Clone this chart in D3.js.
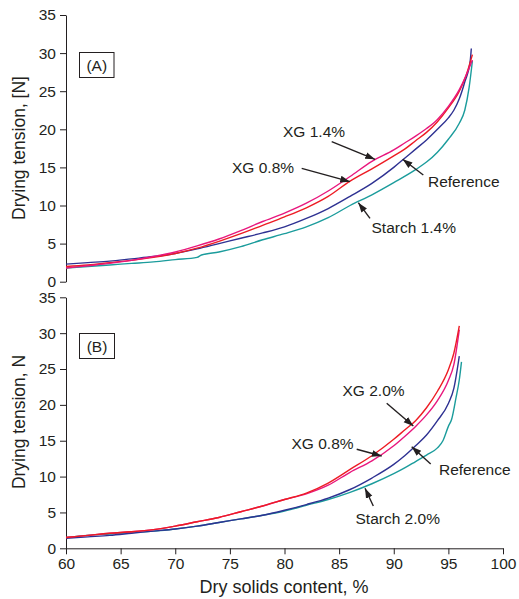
<!DOCTYPE html>
<html><head><meta charset="utf-8">
<script src="https://cdn.jsdelivr.net/npm/d3@7"></script>
<style>
body{margin:0;background:#fff;}
svg text{font-family:"Liberation Sans",Arial,Helvetica,sans-serif;fill:#231f20;}
</style></head><body>
<svg id="c" width="519" height="599"></svg>
<script>
// ---- Data ----
const xTicks = [60,65,70,75,80,85,90,95,100];
const yTicks = [0,5,10,15,20,25,30,35];

// Panel A
const aStarchX = [60,62,64,66,68,70,72,72.4,74,76,78,80,82,84,86,88,90,92,93,94,95,96,96.5,96.9,97.2];
const aStarchY = [1.8,2.0,2.2,2.4,2.6,2.9,3.2,3.5,3.9,4.6,5.5,6.3,7.2,8.4,10.0,11.4,13.0,14.7,15.7,17.0,18.7,20.8,22.5,25.5,29.0];
const aRefX = [60,62,64,66,68,70,72,74,76,78,80,82,84,86,88,90,91,92,93,94,95,95.5,96,96.5,97,97.1];
const aRefY = [2.3,2.5,2.7,3.0,3.3,3.7,4.3,5.0,5.7,6.4,7.2,8.3,9.6,11.2,12.9,15.0,16.2,17.4,18.6,20.0,21.5,22.5,24.0,26.2,29.0,30.6];
const aXG08X = [60,62,64,66,68,70,72,74,76,78,80,82,84,86,88,90,91,92,93,94,95,96,96.6,97.2];
const aXG08Y = [2.0,2.2,2.5,2.8,3.2,3.7,4.4,5.3,6.3,7.4,8.5,9.7,11.2,13.2,14.8,16.5,17.4,18.5,19.6,21.0,22.8,25.0,27.0,29.8];
const aXG14X = [60,62,64,66,68,70,72,74,76,78,80,82,84,86,88,90,91,92,93,94,95,96,96.6,97.2];
const aXG14Y = [1.8,2.1,2.4,2.8,3.3,3.9,4.7,5.6,6.7,7.9,9.0,10.3,11.9,13.8,15.8,17.3,18.2,19.1,20.1,21.3,23.0,25.2,27.0,29.1];

// Panel B
const bStarchX = [60,62,64,66,68,70,72,74,76,78,80,82,84,86,88,90,91,92,93,94,94.5,95,95.3,95.7,96,96.2];
const bStarchY = [1.5,1.8,2.0,2.2,2.4,2.7,3.1,3.6,4.1,4.6,5.2,6.0,6.8,7.8,9.0,10.4,11.2,12.1,13.0,14.0,15.0,17.0,18.0,21.0,23.5,26.0];
const bRefX = [60,62,64,66,68,70,72,74,76,78,80,82,84,86,88,90,91,92,93,94,95,95.5,96];
const bRefY = [1.4,1.6,1.8,2.1,2.4,2.7,3.1,3.6,4.1,4.6,5.3,6.1,7.0,8.2,9.8,11.7,12.9,14.3,15.8,17.8,20.2,22.3,26.8];
const bXG08X = [60,62,64,66,68,70,72,74,76,78,80,82,84,86,88,90,91,92,93,94,95,95.5,96];
const bXG08Y = [1.5,1.8,2.1,2.3,2.6,3.1,3.7,4.3,5.1,5.9,6.8,7.6,8.8,10.6,12.2,14.3,15.6,17.0,18.6,20.6,23.4,25.6,30.5];
const bXG20X = [60,62,64,66,68,70,72,74,76,78,80,82,84,86,88,90,91,92,93,94,95,95.5,96];
const bXG20Y = [1.5,1.8,2.1,2.3,2.6,3.1,3.7,4.3,5.1,5.9,6.8,7.7,9.1,11.0,12.9,15.2,16.5,17.8,19.6,21.9,24.9,27.2,31.0];

const colors = {starch:"#1b9c9c", ref:"#2e3192", xg08:"#ed1c24", xg14:"#e8177d"};

// ---- Layout ----
const svg = d3.select("#c");
const x = d3.scaleLinear().domain([60,100]).range([66,503]);
const yA = d3.scaleLinear().domain([0,35]).range([281.7,15]);
const yB = d3.scaleLinear().domain([0,35]).range([548.3,297.3]);

function styleAxis(g){
  g.attr("font-size",null).attr("font-family",null);
  g.selectAll("path.domain").attr("stroke","#231f20").attr("stroke-width",1);
  g.selectAll(".tick line").attr("stroke","#231f20").attr("stroke-width",1);
  g.selectAll(".tick text").attr("font-size",15.5).attr("fill","#231f20")
    .style("font-family","'Liberation Sans',Arial,sans-serif");
}

function yAxis(y){
  const g = svg.append("g").attr("transform","translate(66,0)")
    .call(d3.axisLeft(y).tickValues(yTicks).tickSize(6).tickSizeOuter(0).tickPadding(4));
  styleAxis(g);
}
yAxis(yA); yAxis(yB);

const gx = svg.append("g").attr("transform","translate(0,548.3)")
  .call(d3.axisBottom(x).tickValues(xTicks).tickSize(6).tickSizeOuter(0).tickPadding(4));
styleAxis(gx);

function drawLine(y, xs, ys, color){
  const pts = xs.map((d,i)=>[d, ys[i]]);
  svg.append("path").datum(pts)
    .attr("fill","none").attr("stroke",color).attr("stroke-width",1.4)
    .attr("d", d3.line().x(d=>x(d[0])).y(d=>y(d[1])).curve(d3.curveMonotoneX));
}
drawLine(yA, aStarchX, aStarchY, colors.starch);
drawLine(yA, aRefX, aRefY, colors.ref);
drawLine(yA, aXG08X, aXG08Y, colors.xg08);
drawLine(yA, aXG14X, aXG14Y, colors.xg14);
drawLine(yB, bStarchX, bStarchY, colors.starch);
drawLine(yB, bRefX, bRefY, colors.ref);
drawLine(yB, bXG08X, bXG08Y, colors.xg14);
drawLine(yB, bXG20X, bXG20Y, colors.xg08);

// Arrow marker
svg.append("defs").append("marker").attr("id","ah")
  .attr("viewBox","0 0 10 10").attr("refX",10).attr("refY",5)
  .attr("markerWidth",7).attr("markerHeight",7).attr("orient","auto")
  .append("path").attr("d","M0,1.5 L10,5 L0,8.5 Z").attr("fill","#231f20");

function label(txt, tx, ty, anchor, x1, y1, x2, y2){
  svg.append("text").attr("x",tx).attr("y",ty).attr("font-size",15.5)
    .attr("text-anchor",anchor).attr("dominant-baseline","central").text(txt);
  svg.append("line").attr("x1",x1).attr("y1",y1).attr("x2",x2).attr("y2",y2)
    .attr("stroke","#231f20").attr("stroke-width",1.4).attr("marker-end","url(#ah)");
}
// Panel A labels
label("XG 1.4%", 283, 131.5, "start", 331.7,141.7, 375,159.3);
label("XG 0.8%", 232, 167, "start", 301.7,168.3, 350,181.7);
label("Reference", 428, 181, "start", 423.3,175, 402.7,159.3);
label("Starch 1.4%", 371.5, 227.3, "start", 370,218.3, 358.3,202.7);
// Panel B labels
label("XG 2.0%", 342.5, 390, "start", 386.7,403.3, 413.3,426);
label("XG 0.8%", 291.5, 443.3, "start", 356.7,449.3, 381.7,456);
label("Reference", 439, 469.3, "start", 430.7,464, 411.7,446.7);
label("Starch 2.0%", 355.5, 518.3, "start", 373.3,506, 365,488.3);

// Panel boxes
function box(txt, x0, y0, w, h){
  svg.append("rect").attr("x",x0).attr("y",y0).attr("width",w).attr("height",h)
    .attr("fill","none").attr("stroke","#231f20").attr("stroke-width",1);
  svg.append("text").attr("x",x0+w/2).attr("y",y0+h/2).attr("font-size",15.5)
    .attr("text-anchor","middle").attr("dominant-baseline","central").text(txt);
}
box("(A)", 79.5, 52.5, 34.5, 25);
box("(B)", 79.5, 333.5, 35, 25);

// Axis titles
svg.append("text").attr("transform","translate(19,148) rotate(-90)")
  .attr("text-anchor","middle").attr("dominant-baseline","central").attr("font-size",17.5)
  .text("Drying tension, [N]");
svg.append("text").attr("transform","translate(19,422) rotate(-90)")
  .attr("text-anchor","middle").attr("dominant-baseline","central").attr("font-size",17.5)
  .text("Drying tension, N");
svg.append("text").attr("x",284).attr("y",593).attr("text-anchor","middle")
  .attr("font-size",18).text("Dry solids content, %");
</script></body></html>
